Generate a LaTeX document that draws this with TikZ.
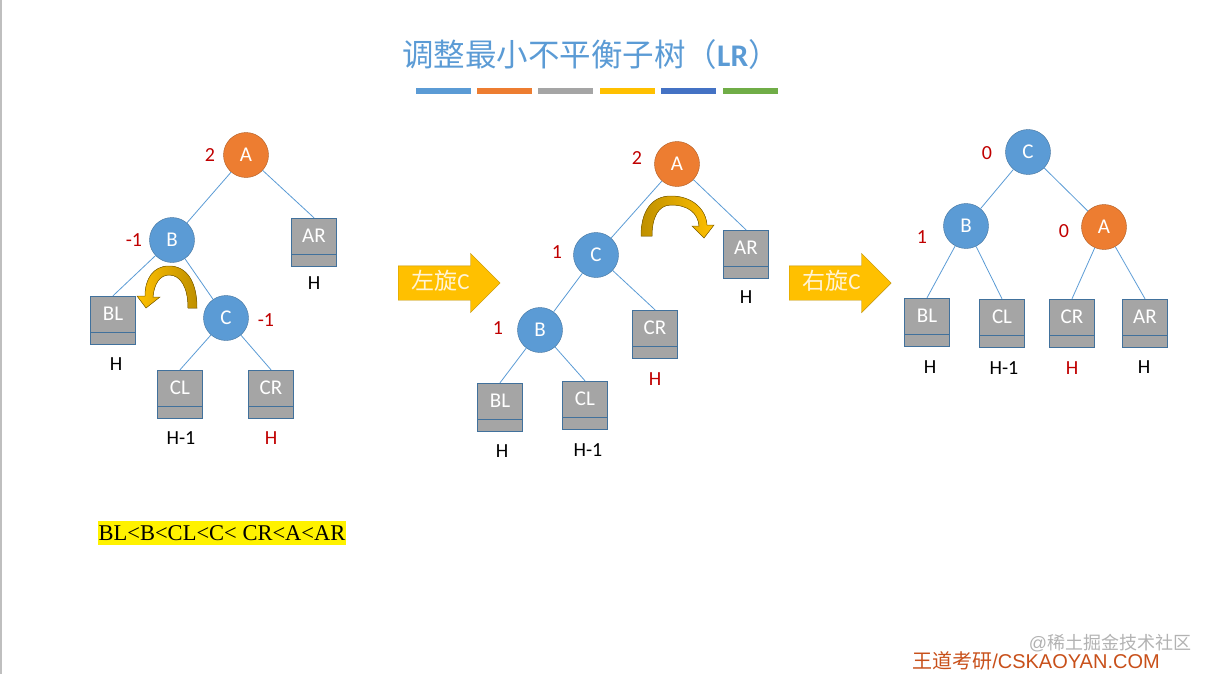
\documentclass[tikz,border=0pt]{standalone}
\usepackage{fontspec}
\setmainfont{Carlito}
\newfontfamily\cjk{Noto Sans CJK SC}
\newfontfamily\timesfont{Liberation Serif}
\newfontfamily\arialfont{Liberation Sans}
\usepackage{xcolor}
\usepackage{tikz}
\usetikzlibrary{shapes.arrows}

\definecolor{nodeblue}{HTML}{5B9BD5}
\definecolor{nodeborder}{HTML}{41719C}
\definecolor{nodeorange}{HTML}{ED7D31}
\definecolor{orangeborder}{HTML}{AE5A21}
\definecolor{leafgray}{HTML}{A5A5A5}
\definecolor{balred}{HTML}{C00000}
\definecolor{arrowgold}{HTML}{FFC000}
\definecolor{arrowdark}{HTML}{BF9000}
\definecolor{arrowtext}{HTML}{FFF4D6}
\definecolor{barblue}{HTML}{4472C4}
\definecolor{bargreen}{HTML}{70AD47}
\definecolor{footred}{HTML}{C8501A}

\tikzset{
  avl/.style={circle, draw=nodeborder, fill=nodeblue, minimum size=45pt, inner sep=0pt,
    text=white, font=\fontsize{21}{25}\selectfont},
  heavy/.style={avl, draw=orangeborder, fill=nodeorange},
  leaf/.style={rectangle, draw=nodeborder, fill=leafgray, minimum width=45pt, minimum height=48pt,
    inner sep=0pt, text=white, text height=12pt, text depth=12pt, font=\fontsize{21}{25}\selectfont,
    path picture={\draw[nodeborder] ([yshift=12pt]path picture bounding box.south west)
      -- ([yshift=12pt]path picture bounding box.south east);}},
  bal/.style={text=balred, font=\fontsize{20}{24}\selectfont},
  ht/.style={font=\fontsize{20}{24}\selectfont},
  edge/.style={draw=nodeblue, line width=0.8pt},
  rot/.style={single arrow, draw=arrowdark, fill=arrowgold, single arrow head extend=12.5pt,
    minimum height=102pt, text height=16pt, text depth=4pt, inner ysep=7pt, inner xsep=6pt,
    text=arrowtext, font=\fontsize{23}{27}\selectfont},
  curl/.style={draw=arrowdark!70!black, line width=0.5pt}
}

\begin{document}
\begin{tikzpicture}[x=1pt, y=-1pt]
\useasboundingbox (0,0) rectangle (1209,674);
\draw[black!25, line width=1.5pt] (1,0) -- (1,674);

% Title
\node[text=nodeblue, font=\fontsize{31.5}{37}\selectfont] (title) at (591,55)
  {\cjk 调整最小不平衡子树（\textbf{\rmfamily LR}）};
\fill[nodeblue] (416,88) rectangle (471,94);
\fill[nodeorange] (477,88) rectangle (532,94);
\fill[leafgray] (538,88) rectangle (593,94);
\fill[arrowgold] (600,88) rectangle (655,94);
\fill[barblue] (661,88) rectangle (716,94);
\fill[bargreen] (723,88) rectangle (778,94);

% Before
\node[heavy] (A1) at (246,155) {A};
\node[avl] (B1) at (172,240) {B};
\node[avl] (C1) at (226,318) {C};
\node[leaf] (AR1) at (314,242) {AR};
\node[leaf] (BL1) at (113,320) {BL};
\node[leaf] (CL1) at (180,394) {CL};
\node[leaf] (CR1) at (271,394) {CR};
\draw[edge] (A1) -- (B1);
\draw[edge] (A1) -- (AR1.north);
\draw[edge] (B1) -- (BL1.north);
\draw[edge] (B1) -- (C1);
\draw[edge] (C1) -- (CL1.north);
\draw[edge] (C1) -- (CR1.north);
\node[bal] (bA1) at (210,155) {2};
\node[bal] (bB1) at (134,240) {-1};
\node[bal] (bC1) at (266,320) {-1};
\node[ht] (hAR1) at (314,283) {H};
\node[ht] (hBL1) at (116,364) {H};
\node[ht] (hCL1) at (181,438) {H-1};
\node[ht, text=balred] (hCR1) at (271,438) {H};
\filldraw[curl, left color=arrowgold, right color=arrowdark]
  (197,308) .. controls (197,282) and (187,266) .. (169,266)
  .. controls (153,266) and (145,279) .. (145,296)
  -- (137,296) -- (146,308) -- (160,297) -- (153,297)
  .. controls (154,284) and (160,275) .. (169,275)
  .. controls (181,275) and (188,288) .. (188,308) -- cycle;

% Left rotation
\node[rot, anchor=west] (left) at (398,283) {{\cjk 左旋}C};

% After left rotation
\node[heavy] (A2) at (677,164) {A};
\node[avl] (C2) at (596,255) {C};
\node[avl] (B2) at (540,330) {B};
\node[leaf] (AR2) at (746,254) {AR};
\node[leaf] (CR2) at (655,334) {CR};
\node[leaf] (BL2) at (500,407) {BL};
\node[leaf] (CL2) at (585,405) {CL};
\draw[edge] (A2) -- (C2);
\draw[edge] (A2) -- (AR2.north);
\draw[edge] (C2) -- (B2);
\draw[edge] (C2) -- (CR2.north);
\draw[edge] (B2) -- (BL2.north);
\draw[edge] (B2) -- (CL2.north);
\node[bal] (bA2) at (637,158) {2};
\node[bal] (bC2) at (557,252) {1};
\node[bal] (bB2) at (498,328) {1};
\node[ht] (hAR2) at (746,297) {H};
\node[ht, text=balred] (hCR2) at (655,379) {H};
\node[ht] (hBL2) at (502,451) {H};
\node[ht] (hCL2) at (588,450) {H-1};
\filldraw[curl, left color=arrowdark, right color=arrowgold]
  (641,236) .. controls (641,212) and (651,196) .. (671,196)
  .. controls (692,196) and (706,209) .. (707,225)
  -- (714,225) -- (704,238) -- (692,226) -- (699,226)
  .. controls (698,213) and (688,205) .. (671,205)
  .. controls (658,205) and (652,218) .. (652,236) -- cycle;

% Right rotation
\node[rot, anchor=west] (right) at (789,283) {{\cjk 右旋}C};

% After right rotation
\node[avl] (C3) at (1028,152) {C};
\node[avl] (B3) at (966,226) {B};
\node[heavy] (A3) at (1104,227) {A};
\node[leaf] (BL3) at (927,322) {BL};
\node[leaf] (CL3) at (1002,323) {CL};
\node[leaf] (CR3) at (1072,323) {CR};
\node[leaf] (AR3) at (1145,323) {AR};
\draw[edge] (C3) -- (B3);
\draw[edge] (C3) -- (A3);
\draw[edge] (B3) -- (BL3.north);
\draw[edge] (B3) -- (CL3.north);
\draw[edge] (A3) -- (CR3.north);
\draw[edge] (A3) -- (AR3.north);
\node[bal] (bC3) at (987,153) {0};
\node[bal] (bB3) at (922,237) {1};
\node[bal] (bA3) at (1064,231) {0};
\node[ht] (hBL3) at (930,367) {H};
\node[ht] (hCL3) at (1004,368) {H-1};
\node[ht, text=balred] (hCR3) at (1072,368) {H};
\node[ht] (hAR3) at (1144,367) {H};

% Order
\node[fill=yellow, inner xsep=1pt, inner ysep=4pt, font=\timesfont\fontsize{22.5}{26}\selectfont]
  (order) at (222,533) {BL<B<CL<C< CR<A<AR};

% Footer
\node[text=black!30, font=\fontsize{18}{22}\selectfont] (mark) at (1110,643) {{\arialfont @}{\cjk 稀土掘金技术社区}};
\node[text=footred, font=\fontsize{20}{24}\selectfont] (foot) at (1036,661) {{\cjk 王道考研}{\arialfont /CSKAOYAN.COM}};
\end{tikzpicture}
\end{document}
